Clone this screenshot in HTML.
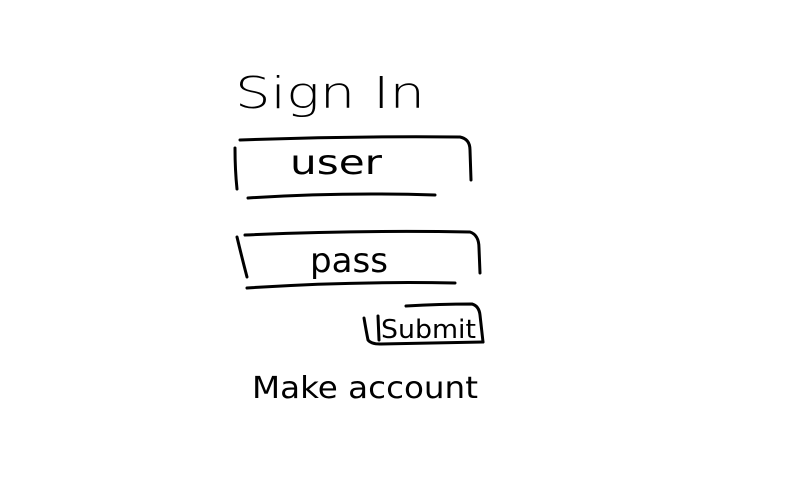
<!DOCTYPE html>
<html><head><meta charset="utf-8"><style>
html,body{margin:0;padding:0;background:#fff;width:800px;height:500px;overflow:hidden}
svg text{font-family:"DejaVu Sans","Liberation Sans",sans-serif;fill:#000}
</style></head><body>
<svg width="800" height="500" viewBox="0 0 800 500" xmlns="http://www.w3.org/2000/svg">
<g fill="none" stroke="#000" stroke-width="3" stroke-linecap="round" stroke-linejoin="round">
<path d="M240 140 Q350 136 460 137 Q470 139 470 150 L471 180"/>
<path d="M235 148 Q235 170 237 189"/>
<path d="M248 198 Q340 192 435 195"/>
<path d="M245 235 Q360 230 470 232 Q479 235 479 248 L480 273"/>
<path d="M237 237 Q242 258 247 277"/>
<path d="M247 288 Q350 281 455 283"/>
<path d="M406 306 Q440 304 472 304 Q479 306 480 315 L483 342"/>
<path d="M364 318 Q366 330 368 340 Q371 344 380 344 L483 342"/>
<path d="M378 316 L379 340"/>
</g>
<text x="235" y="108" font-size="44" textLength="190" lengthAdjust="spacingAndGlyphs" font-weight="300">Sign In</text>
<text x="290" y="174" font-size="34" textLength="92" lengthAdjust="spacingAndGlyphs">user</text>
<text x="310" y="272" font-size="34" textLength="78" lengthAdjust="spacingAndGlyphs">pass</text>
<text x="381" y="338" font-size="26" textLength="95" lengthAdjust="spacingAndGlyphs">Submit</text>
<text x="252" y="398" font-size="30" textLength="226" lengthAdjust="spacingAndGlyphs">Make account</text>
</svg>
</body></html>
